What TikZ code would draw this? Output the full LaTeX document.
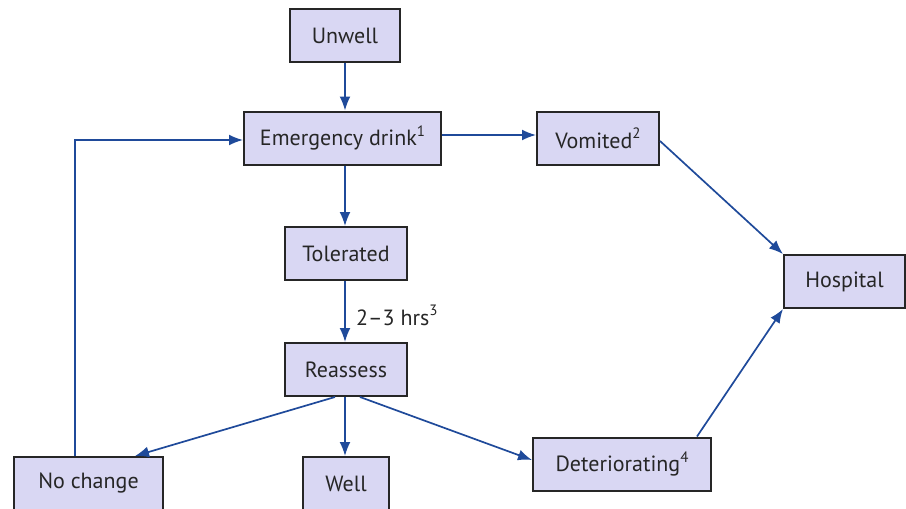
\documentclass[tikz,border=0pt]{standalone}
\usepackage{fontspec}
\setmainfont{PT Sans}
\usetikzlibrary{arrows.meta}
\definecolor{boxfill}{HTML}{D9D7F3}
\definecolor{flow}{HTML}{1F4A9A}
\newcommand{\note}[1]{\raisebox{0.45em}{\fontsize{15}{15}\selectfont #1}}
\begin{document}
\begin{tikzpicture}[x=1pt,y=-1pt,
  stage/.style={draw=black!85,line width=2pt,fill=boxfill,minimum height=53pt,
    inner sep=0pt,font=\fontsize{22}{26}\selectfont,text=black!85},
  link/.style={draw=flow,line width=1.7pt,-{Latex[length=14pt,width=11pt]}},
  lbl/.style={font=\fontsize{22}{26}\selectfont,text=black!85}]
\useasboundingbox (0,0) rectangle (906,509);
\node[stage,minimum width=110pt] (unwell) at (345,35.5) {Unwell};
\node[stage,minimum width=197pt] (drink) at (342.5,138) {Emergency drink\note{1}};
\node[stage,minimum width=122pt] (vomit) at (598,138.5) {Vomited\note{2}};
\node[stage,minimum width=122pt] (toler) at (346,253.5) {Tolerated};
\node[stage,minimum width=122pt] (reass) at (346,369.5) {Reassess};
\node[stage,minimum width=121pt] (hosp) at (844.5,281.5) {Hospital};
\node[stage,minimum width=149pt] (nochg) at (88.5,483.5) {No change};
\node[stage,minimum width=86pt] (well) at (346,483.5) {Well};
\node[stage,minimum width=178pt] (deter) at (622,464) {Deteriorating\note{4}};
\coordinate (bend) at (75,140);

\draw[link] (unwell.south -| 345,0) -- (drink.north -| 345,0);
\draw[link] (drink.east |- 0,135) -- (vomit.west |- 0,135);
\draw[link] (drink.south -| 345,0) -- (toler.north -| 345,0);
\draw[link] (toler.south -| 345,0) -- node[lbl,right=7pt,yshift=-4pt] {2–3 hrs\note{3}} (reass.north -| 345,0);
\draw[link] (vomit.east |- 0,141) -- (hosp.north west);
\draw[link] (deter.north -| 697,0) -- (hosp.south west);
\draw[link] (reass.south -| 335,0) -- (nochg.north -| 135,0);
\draw[link] (reass.south -| 345,0) -- (well.north -| 345,0);
\draw[link] (reass.south -| 360,0) -- (deter.west |- 0,460);
\draw[link] (nochg.north -| 75,0) -- (bend) -- (drink.west |- bend);
\end{tikzpicture}
\end{document}
